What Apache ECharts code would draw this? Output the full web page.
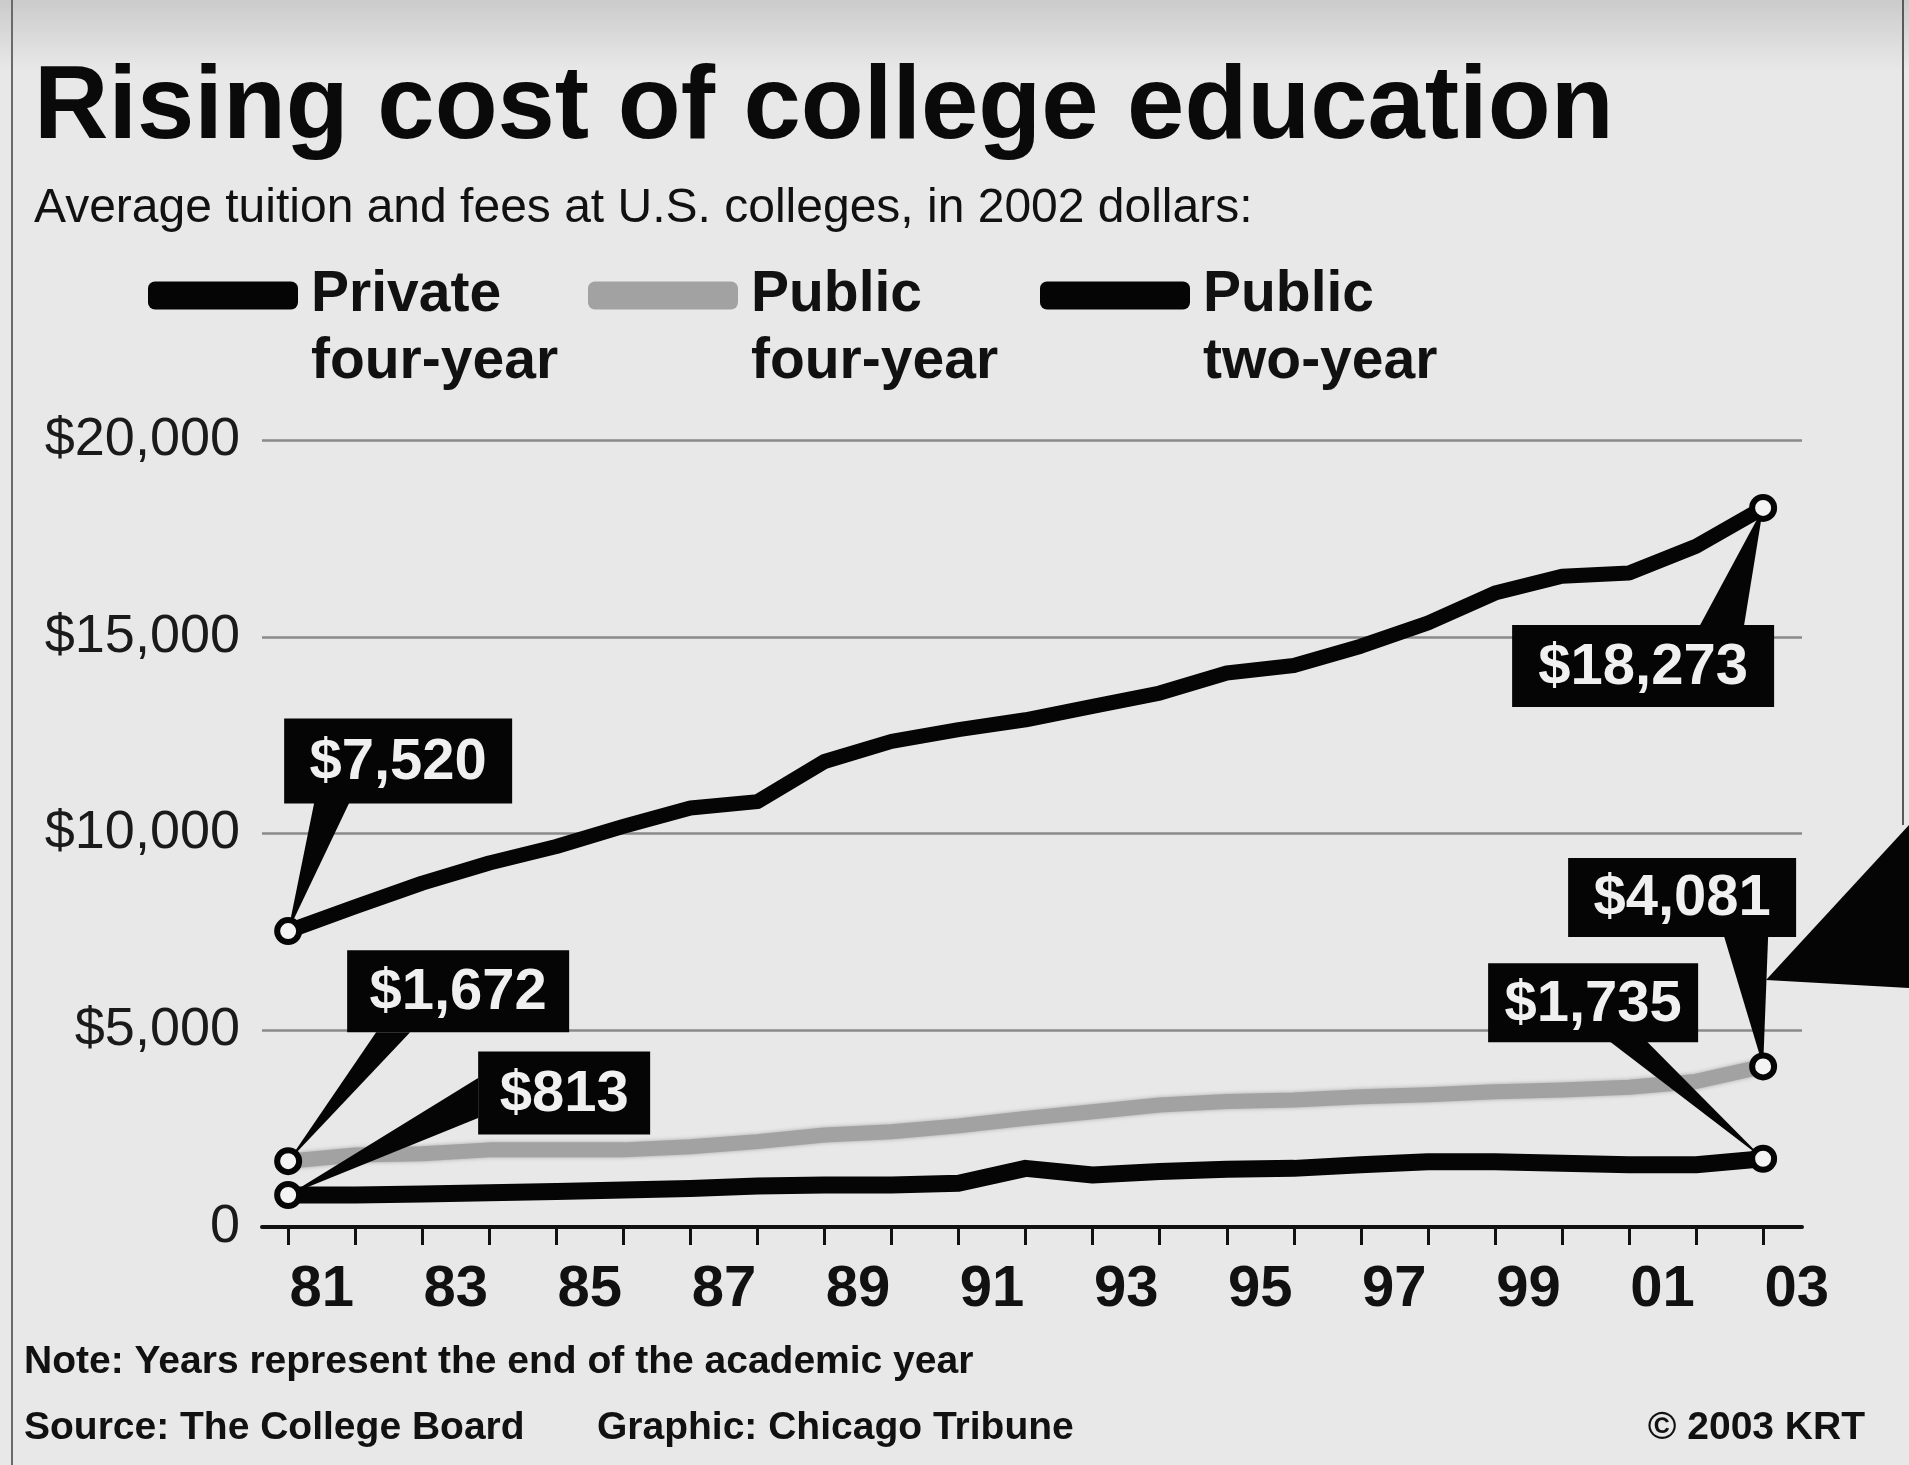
<!DOCTYPE html>
<html>
<head>
<meta charset="utf-8">
<script src="https://cdn.jsdelivr.net/npm/echarts@6/dist/echarts.min.js"></script>
<style>
html,body{margin:0;padding:0;background:#e8e8e8;}
#c{width:1909px;height:1465px;}
</style>
</head>
<body>
<div id="c"></div>
<script>
// ---------------- data ----------------
const years = [1981,1982,1983,1984,1985,1986,1987,1988,1989,1990,1991,1992,1993,1994,1995,1996,1997,1998,1999,2000,2001,2002,2003];
const xTickLabels = ['81','83','85','87','89','91','93','95','97','99','01','03'];
const yTickLabels = ['0','$5,000','$10,000','$15,000','$20,000'];
const seriesNames = ['Private four-year','Public four-year','Public two-year'];
const privateFourYear = [7520,8140,8740,9250,9670,10180,10650,10810,11830,12340,12640,12890,13230,13570,14080,14270,14760,15350,16110,16540,16620,17300,18273];
const publicFourYear  = [1672,1830,1860,1960,1960,1960,2040,2170,2340,2420,2570,2760,2930,3100,3190,3230,3310,3360,3440,3480,3550,3700,4081];
const publicTwoYear   = [813,815,840,870,900,940,980,1040,1070,1070,1110,1490,1320,1410,1470,1490,1580,1660,1660,1620,1580,1580,1735];

// ---------------- layout / style (not data) ----------------
const seriesValues = [privateFourYear, publicFourYear, publicTwoYear];
const seriesColors = ['#050505', '#a2a2a2', '#050505'];
const seriesWidths = [15, 15, 17];
const LAST = years.length - 1;
// callout boxes: series, point index, box-centre offset, box size, wedge base points (relative to box centre)
const calloutLayout = [
  {s:0, i:0,    dx:110,  dy:-170, w:228, h:85, b:[[-84,42],[-49,42]]},
  {s:1, i:0,    dx:170,  dy:-170, w:222, h:82, b:[[-82,41],[-48,41]]},
  {s:2, i:0,    dx:276,  dy:-102, w:172, h:83, b:[[-86,-15],[-86,25]]},
  {s:0, i:LAST, dx:-120, dy:158,  w:262, h:82, b:[[57,-41],[101,-41]]},
  {s:1, i:LAST, dx:-81,  dy:-169, w:228, h:79, b:[[42,39],[86,39]]},
  {s:2, i:LAST, dx:-170, dy:-156, w:210, h:79, b:[[17,39],[54,39]]}
];

const SANS = '"Liberation Sans", Arial, Helvetica, sans-serif';
const fmtMoney = v => '$' + v.toLocaleString('en-US');

const chart = echarts.init(document.getElementById('c'), null, {renderer:'canvas'});

const lineSeries = seriesNames.map((name, k) => ({
  name: name,
  type: 'line',
  data: years.map((y, i) => [y, seriesValues[k][i]]),
  showSymbol: false,
  symbol: 'none',
  color: seriesColors[k],
  lineStyle: {color: seriesColors[k], width: seriesWidths[k], cap: 'round', join: 'round',
              shadowBlur: k === 1 ? 4 : 0, shadowColor: k === 1 ? '#a8a8a8' : 'transparent'},
  z: k === 1 ? 2 : 3,
  silent: true
}));

const endPoints = [];
seriesValues.forEach(arr => { endPoints.push([years[0], arr[0]]); endPoints.push([years[LAST], arr[LAST]]); });

const option = {
  animation: false,
  backgroundColor: '#e8e8e8',
  grid: {left: 262, right: 107, top: 440, bottom: 238, containLabel: false},
  xAxis: {
    type: 'value',
    min: 1980.61, max: 2003.58,
    axisLine: {show: true, onZero: false, lineStyle: {color: '#111', width: 4}},
    axisTick: {show: true, customValues: years, length: 18, lineStyle: {color: '#111', width: 3}},
    axisLabel: {
      show: true,
      customValues: years.filter((y, i) => i % 2 === 0).map(y => y + 0.5),
      formatter: v => xTickLabels[(Math.floor(v) - 1981) / 2],
      fontFamily: SANS, fontWeight: 'bold', fontSize: 58, color: '#111', margin: 34
    },
    splitLine: {show: false}
  },
  yAxis: {
    type: 'value', min: 0, max: 20000, interval: 5000,
    axisLine: {show: false}, axisTick: {show: false},
    axisLabel: {formatter: v => yTickLabels[v / 5000], fontFamily: SANS, fontSize: 54, color: '#1a1a1a', margin: 22, padding: [0, 0, 8, 0]},
    splitLine: {show: true, lineStyle: {color: '#8a8a8a', width: 2.5}}
  },
  legend: seriesNames.map((n, k) => ({
    data: [n],
    left: [148, 588, 1040][k],
    top: 195,
    orient: 'horizontal',
    padding: 0,
    icon: 'roundRect',
    itemWidth: 150, itemHeight: 28, itemGap: 0,
    selectedMode: false,
    formatter: name => ' \n' + name.replace(' ', '\n'),
    textStyle: {fontFamily: SANS, fontWeight: 'bold', fontSize: 57, color: '#111', lineHeight: 67, padding: [0, 0, 0, 8]}
  })),
  series: lineSeries.concat([
    {
      type: 'custom',
      data: calloutLayout.map(c => [years[c.i], seriesValues[c.s][c.i]]),
      z: 5,
      silent: true,
      renderItem: function (params, api) {
        const c = calloutLayout[params.dataIndex];
        const v = seriesValues[c.s][c.i];
        const p = api.coord([api.value(0), api.value(1)]);
        const cx = p[0] + c.dx, cy = p[1] + c.dy;
        return {
          type: 'group',
          children: [
            {type: 'polygon', shape: {points: [[p[0], p[1]], [cx + c.b[0][0], cy + c.b[0][1]], [cx + c.b[1][0], cy + c.b[1][1]]]}, style: {fill: '#050505'}},
            {type: 'rect', shape: {x: cx - c.w / 2, y: cy - c.h / 2, width: c.w, height: c.h}, style: {fill: '#050505'}},
            {type: 'text', x: cx, y: cy + 2, style: {text: fmtMoney(v), fill: '#f0f0f0', font: 'bold 58px ' + SANS, align: 'center', verticalAlign: 'middle'}}
          ]
        };
      }
    },
    {
      type: 'scatter',
      data: endPoints,
      symbol: 'circle',
      symbolSize: 22,
      itemStyle: {color: '#f4f4f4', borderColor: '#050505', borderWidth: 6, opacity: 1},
      z: 10,
      silent: true
    }
  ]),
  graphic: [
    {type: 'rect', left: 0, top: 0, z: -10, shape: {width: 1909, height: 70}, style: {fill: new echarts.graphic.LinearGradient(0, 0, 0, 1, [{offset: 0, color: '#cbcbcb'}, {offset: 1, color: '#e8e8e8'}])}},
    {type: 'line', z: 1, shape: {x1: 12, y1: 0, x2: 12, y2: 1465}, style: {stroke: '#6a6a6a', lineWidth: 2}},
    {type: 'line', z: 1, shape: {x1: 1903, y1: 0, x2: 1903, y2: 825}, style: {stroke: '#5a5a5a', lineWidth: 2}},
    {type: 'polygon', shape: {points: [[1766, 980], [1909, 825], [1909, 988]]}, style: {fill: '#050505'}},
    {type: 'text', x: 34, y: 110, style: {text: 'Rising cost of college education', font: 'bold 103px ' + SANS, fill: '#0a0a0a', verticalAlign: 'middle'}},
    {type: 'text', x: 34, y: 209, style: {text: 'Average tuition and fees at U.S. colleges, in 2002 dollars:', font: '48px ' + SANS, fill: '#111', verticalAlign: 'middle'}},
    {type: 'text', x: 24, y: 1362, style: {text: 'Note: Years represent the end of the academic year', font: 'bold 39px ' + SANS, fill: '#111', verticalAlign: 'middle'}},
    {type: 'text', x: 24, y: 1428, style: {text: 'Source: The College Board', font: 'bold 39px ' + SANS, fill: '#111', verticalAlign: 'middle'}},
    {type: 'text', x: 597, y: 1428, style: {text: 'Graphic: Chicago Tribune', font: 'bold 39px ' + SANS, fill: '#111', verticalAlign: 'middle'}},
    {type: 'text', x: 1865, y: 1428, style: {text: '\u00A9 2003 KRT', font: 'bold 39px ' + SANS, fill: '#111', align: 'right', verticalAlign: 'middle'}}
  ]
};
chart.setOption(option);
</script>
</body>
</html>
